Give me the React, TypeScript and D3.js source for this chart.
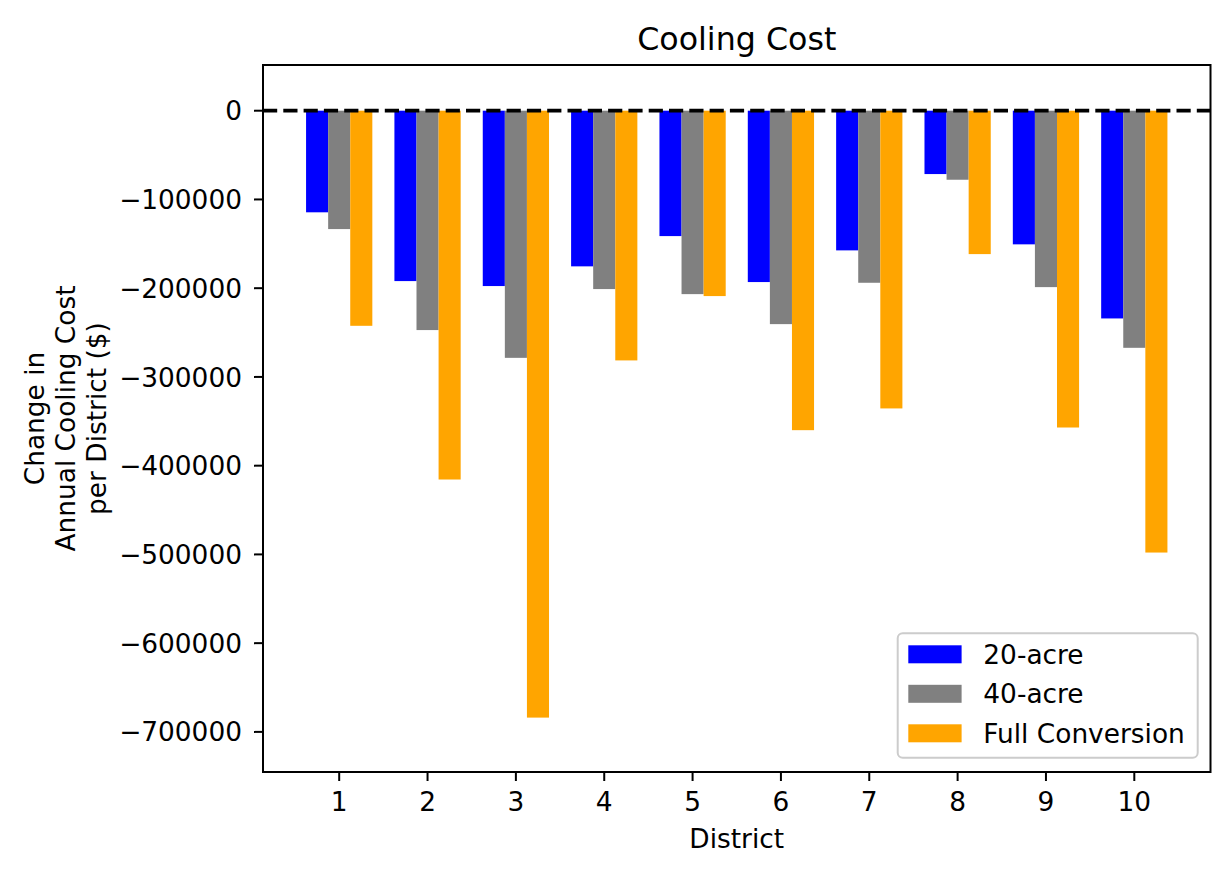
import { useEffect, useRef } from "react";
import * as d3 from "d3";

// values (annual cooling cost change, $)
const districts = [1, 2, 3, 4, 5, 6, 7, 8, 9, 10];
const acre20 = [-114500, -192000, -197600, -175400, -141300, -193100, -157400, -71400, -150600, -234100];
const acre40 = [-133400, -247200, -278500, -201000, -206700, -240500, -193900, -77800, -198800, -267200];
const fullConversion = [-242400, -415600, -683900, -281400, -208900, -360000, -335500, -161600, -357000, -497900];
const seriesNames = ["20-acre", "40-acre", "Full Conversion"];
const seriesColors = ["#0000ff", "#808080", "#ffa500"];
const yTicks = [0, -100000, -200000, -300000, -400000, -500000, -600000, -700000];
const yLabelLines = ["Change in", "Annual Cooling Cost", "per District ($)"];

const W = 1223;
const H = 873;
const FONT = "DejaVu Sans, sans-serif";
const FS = 26.4;

const App = () => {
  const ref = useRef<SVGSVGElement>(null);

  useEffect(() => {
    const svg: any = d3.select(ref.current);
    svg.selectAll("*").remove();

    const left = 263;
    const right = 1210.5;
    const top = 65;
    const bottom = 772;

    const x = d3.scaleLinear().domain([0.1375, 10.8625]).range([left, right]);
    const y = d3.scaleLinear().domain([-745200, 51500]).range([bottom, top]);

    svg.append("rect").attr("width", W).attr("height", H).attr("fill", "#fff");

    // bars
    const series = [acre20, acre40, fullConversion];
    const barW = 0.25;
    series.forEach((vals, si) => {
      const offset = (si - 1) * barW;
      svg
        .append("g")
        .selectAll("rect")
        .data(districts)
        .enter()
        .append("rect")
        .attr("x", (d: number) => x(d + offset - barW / 2))
        .attr("width", x(barW) - x(0))
        .attr("y", y(0))
        .attr("height", (_d: number, i: number) => y(vals[i]) - y(0))
        .attr("fill", seriesColors[si]);
    });

    // dashed zero line
    svg
      .append("line")
      .attr("x1", left)
      .attr("x2", right)
      .attr("y1", y(0))
      .attr("y2", y(0))
      .attr("stroke", "#000")
      .attr("stroke-width", 3.8)
      .attr("stroke-dasharray", "14.2 6.1");

    // spines
    svg
      .append("rect")
      .attr("x", left)
      .attr("y", top)
      .attr("width", right - left)
      .attr("height", bottom - top)
      .attr("fill", "none")
      .attr("stroke", "#000")
      .attr("stroke-width", 2);

    // y axis
    const fmt = (v: number) => (v < 0 ? "\u2212" + Math.abs(v) : String(v));
    const yg = svg.append("g");
    yTicks.forEach((t) => {
      yg.append("line")
        .attr("x1", left - 9)
        .attr("x2", left)
        .attr("y1", y(t))
        .attr("y2", y(t))
        .attr("stroke", "#000")
        .attr("stroke-width", 2);
      yg.append("text")
        .attr("x", left - 21)
        .attr("y", y(t) + 9.6)
        .attr("text-anchor", "end")
        .attr("font-family", FONT)
        .attr("font-size", FS)
        .attr("fill", "#000")
        .text(fmt(t));
    });

    // x axis
    const xg = svg.append("g");
    districts.forEach((d) => {
      xg.append("line")
        .attr("x1", x(d))
        .attr("x2", x(d))
        .attr("y1", bottom)
        .attr("y2", bottom + 9)
        .attr("stroke", "#000")
        .attr("stroke-width", 2);
      xg.append("text")
        .attr("x", x(d))
        .attr("y", 810.5)
        .attr("text-anchor", "middle")
        .attr("font-family", FONT)
        .attr("font-size", FS)
        .attr("fill", "#000")
        .text(String(d));
    });

    const midX = (left + right) / 2;
    const midY = (top + bottom) / 2;

    svg
      .append("text")
      .attr("x", midX)
      .attr("y", 848)
      .attr("text-anchor", "middle")
      .attr("font-family", FONT)
      .attr("font-size", FS)
      .text("District");

    // y label, three lines
    yLabelLines.forEach((line, i) => {
      const bx = 43.5 + i * 31.3;
      svg
        .append("text")
        .attr("transform", `translate(${bx},${midY}) rotate(-90)`)
        .attr("text-anchor", "middle")
        .attr("font-family", FONT)
        .attr("font-size", FS)
        .text(line);
    });

    // title
    svg
      .append("text")
      .attr("x", midX)
      .attr("y", 49.6)
      .attr("text-anchor", "middle")
      .attr("font-family", FONT)
      .attr("font-size", FS * 1.2)
      .text("Cooling Cost");

    // legend
    const lgRight = right - 12.8;
    const lgBottom = bottom - 14.3;
    const lgW = 300;
    const lgH = 124.4;
    const lg = svg.append("g");
    lg.append("rect")
      .attr("x", lgRight - lgW)
      .attr("y", lgBottom - lgH)
      .attr("width", lgW)
      .attr("height", lgH)
      .attr("rx", 5)
      .attr("fill", "#fff")
      .attr("fill-opacity", 0.8)
      .attr("stroke", "#cccccc")
      .attr("stroke-width", 2);
    seriesNames.forEach((name, i) => {
      const cy = lgBottom - lgH + 21 + i * 39.5;
      lg.append("rect")
        .attr("x", lgRight - lgW + 10.6)
        .attr("y", cy - 9)
        .attr("width", 53.3)
        .attr("height", 18)
        .attr("fill", seriesColors[i]);
      lg.append("text")
        .attr("x", lgRight - lgW + 85.6)
        .attr("y", cy + 9.6)
        .attr("font-family", FONT)
        .attr("font-size", FS)
        .attr("fill", "#000")
        .text(name);
    });
  }, []);

  return (
    <svg
      ref={ref}
      width={W}
      height={H}
      style={{ position: "absolute", left: 0, top: 0, display: "block" }}
    />
  );
};

export default App;
